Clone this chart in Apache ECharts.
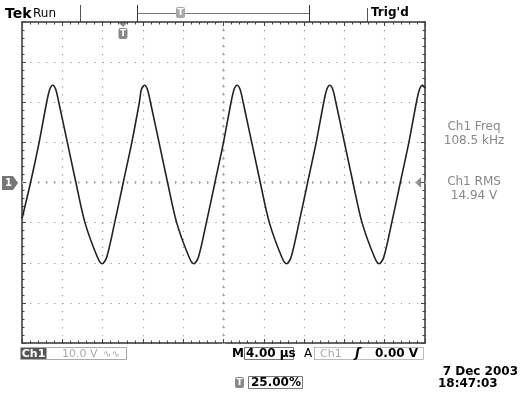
<!DOCTYPE html>
<html>
<head>
<meta charset="utf-8">
<script src="https://cdn.jsdelivr.net/npm/echarts@6/dist/echarts.min.js"></script>
<style>
  html, body { margin: 0; padding: 0; background: #fff; }
  #chart { width: 529px; height: 397px; }
</style>
</head>
<body>
<div id="chart"></div>
<script>
// time in µs from the left edge of the screen (trigger sits at 10 µs), volts on Ch1
const timeUs = [
  0, 0.85, 1.7, 2.45, 2.75, 3.05, 3.35, 3.65, 4.5, 5.35, 6.25, 7.5, 7.95,
  8.4, 9.2, 10.05, 10.9, 11.65, 11.85, 12.15, 12.45, 12.75, 13.6, 14.45, 15.35, 16.6, 17.05,
  17.5, 18.3, 19.15, 20.0, 20.75, 21.05, 21.35, 21.65, 21.95, 22.8, 23.65, 24.55, 25.8, 26.25,
  26.7, 27.5, 28.35, 29.2, 29.95, 30.25, 30.55, 30.85, 31.15, 32.0, 32.85, 33.75, 35.0, 35.45,
  35.9, 36.7, 37.55, 38.4, 39.15, 39.45, 39.75, 40
]
const volts = [
  -9, 0, 10, 20, 23.2, 24.25, 23.2, 20, 10, 0, -10, -18.7, -20.25,
  -18.7, -10, 0, 10, 20, 23.2, 24.25, 23.2, 20, 10, 0, -10, -18.7, -20.25,
  -18.7, -10, 0, 10, 20, 23.2, 24.25, 23.2, 20, 10, 0, -10, -18.7, -20.25,
  -18.7, -10, 0, 10, 20, 23.2, 24.25, 23.2, 20, 10, 0, -10, -18.7, -20.25,
  -18.7, -10, 0, 10, 20, 23.2, 24.25, 23.5
]
const readouts = ['Ch1 Freq', '108.5 kHz', 'Ch1 RMS', '14.94 V']
const chLabel = 'Ch1'
const voltsPerDiv = '10.0 V'
const timePerDiv = '4.00 µs'
const trigLevel = '0.00 V'
const trigPos = '25.00%'
const dateText = '7 Dec 2003'
const timeText = '18:47:03'

const FONT = 'DejaVu Sans'
const GRID = { left: 22, top: 22, width: 403, height: 321 }

function xAx(pos, opts) {
  return Object.assign({
    type: 'value', min: 0, max: 40, interval: 4, position: pos,
    axisLine: { show: true, onZero: false, lineStyle: { color: '#333', width: 1.5 } },
    axisTick: { show: true, inside: true, length: 4, lineStyle: { color: '#444' } },
    minorTick: { show: true, splitNumber: 5, length: 2.5, lineStyle: { color: '#444' } },
    axisLabel: { show: false },
    splitLine: { show: false }
  }, opts)
}
function yAx(pos, opts) {
  return Object.assign({
    type: 'value', min: -40, max: 40, interval: 10, position: pos,
    axisLine: { show: true, onZero: false, lineStyle: { color: '#333', width: 1.5 } },
    axisTick: { show: true, inside: true, length: 4, lineStyle: { color: '#444' } },
    minorTick: { show: true, splitNumber: 5, length: 2.5, lineStyle: { color: '#444' } },
    axisLabel: { show: false },
    splitLine: { show: false }
  }, opts)
}

const centerTicks = { show: true, length: 1.5, lineStyle: { color: '#aaa' } }
const centerMinor = { show: true, splitNumber: 5, length: 1.5, lineStyle: { color: '#aaa' } }

const chart = echarts.init(document.getElementById('chart'))

function box(x, y, w, h, stroke, fill) {
  return { type: 'rect', shape: { x: x, y: y, width: w, height: h },
    style: { fill: fill || 'none', stroke: stroke || 'none', lineWidth: 1 } }
}
function txt(x, y, s, opt) {
  return { type: 'text', x: x, y: y, style: Object.assign({
    text: s, font: '12px ' + FONT, fill: '#000', textVerticalAlign: 'middle'
  }, opt || {}) }
}
function vline(x, y1, y2, c) {
  return { type: 'line', shape: { x1: x, y1: y1, x2: x, y2: y2 }, style: { stroke: c || '#555', lineWidth: 1 } }
}
function tIcon(x, y, c) {
  return [
    { type: 'rect', shape: { x: x, y: y, width: 9, height: 11, r: 2 }, style: { fill: c } },
    txt(x + 4.5, y + 5.5, 'T', { font: 'bold 9px ' + FONT, fill: '#fff', textAlign: 'center' })
  ]
}

const graphics = [
  txt(5, 14, 'Tek', { font: 'bold 14px ' + FONT }),
  txt(33, 14, 'Run', { font: '12px ' + FONT }),
  vline(80.5, 5, 22),
  vline(137.5, 5, 22, '#333'),
  { type: 'line', shape: { x1: 137, y1: 13.5, x2: 309, y2: 13.5 }, style: { stroke: '#777', lineWidth: 1 } },
  vline(309.5, 5, 22, '#333'),
  vline(367.5, 8, 22),
  txt(371, 13, 'Trig\'d', { font: 'bold 12px ' + FONT }),
  ...tIcon(176, 7, '#aaa'),
  { type: 'polygon', shape: { points: [[118, 22], [128, 22], [123, 27]] }, style: { fill: '#888' } },
  ...tIcon(118.5, 28, '#888'),
  { type: 'polygon', shape: { points: [[2, 176], [13, 176], [18, 183], [13, 190], [2, 190]] }, style: { fill: '#777' } },
  txt(8.5, 183.5, '1', { font: 'bold 10px ' + FONT, fill: '#fff', textAlign: 'center' }),
  { type: 'polygon', shape: { points: [[421, 177.5], [421, 187.5], [415, 182.5]] }, style: { fill: '#888' } },
  txt(474, 127, readouts[0], { font: '12px ' + FONT, fill: '#888', textAlign: 'center' }),
  txt(474, 141, readouts[1], { font: '12px ' + FONT, fill: '#888', textAlign: 'center' }),
  txt(474, 182, readouts[2], { font: '12px ' + FONT, fill: '#888', textAlign: 'center' }),
  txt(474, 196, readouts[3], { font: '12px ' + FONT, fill: '#888', textAlign: 'center' }),
  box(20.5, 347.5, 26, 12, null, '#555'),
  txt(33.5, 354, chLabel, { font: 'bold 11px ' + FONT, fill: '#fff', textAlign: 'center' }),
  box(46.5, 347.5, 80, 12, '#aaa'),
  txt(62, 354, voltsPerDiv, { font: '11px ' + FONT, fill: '#aaa' }),
  txt(103, 354, '∿∿', { font: '10px ' + FONT, fill: '#aaa' }),
  txt(232, 354, 'M', { font: 'bold 12px ' + FONT }),
  box(244.5, 347.5, 49, 12, '#777'),
  txt(246, 354, timePerDiv, { font: 'bold 12px ' + FONT }),
  txt(304, 354, 'A', { font: '12px ' + FONT }),
  vline(314.5, 347, 360, '#333'),
  box(314.5, 347.5, 109, 12, '#bbb'),
  txt(320, 354, chLabel, { font: '11px ' + FONT, fill: '#aaa' }),
  txt(355, 354, 'ʃ', { font: 'bold italic 13px ' + FONT }),
  txt(375, 354, trigLevel, { font: 'bold 12px ' + FONT }),
  ...tIcon(235, 377, '#888'),
  box(248.5, 376.5, 54, 12, '#777'),
  txt(251, 383, trigPos, { font: 'bold 12px ' + FONT }),
  txt(518, 372, dateText, { font: 'bold 12px ' + FONT, textAlign: 'right' }),
  txt(438, 384, timeText, { font: 'bold 12px ' + FONT })
]

const option = {
  backgroundColor: '#fff',
  animation: false,
  grid: GRID,
  xAxis: [
    xAx('bottom', { splitLine: { show: true, lineStyle: { color: '#999', width: 1.2, type: [1.2, 6.83] } } }),
    xAx('top'),
    xAx('bottom', { offset: -160.5,
      axisLine: { show: true, onZero: false, lineStyle: { color: '#aaa', width: 1, type: [1.2, 6.86] } },
      axisTick: Object.assign({ inside: true }, centerTicks), minorTick: centerMinor }),
    xAx('bottom', { offset: -160.5, axisLine: { show: false, onZero: false },
      axisTick: Object.assign({ inside: false }, centerTicks), minorTick: centerMinor })
  ],
  yAxis: [
    yAx('left', { splitLine: { show: true, lineStyle: { color: '#999', width: 1.2, type: [1.2, 6.86] } } }),
    yAx('right'),
    yAx('left', { offset: -201.5,
      axisLine: { show: true, onZero: false, lineStyle: { color: '#aaa', width: 1, type: [1.2, 6.83] } },
      axisTick: Object.assign({ inside: true }, centerTicks), minorTick: centerMinor }),
    yAx('left', { offset: -201.5, axisLine: { show: false, onZero: false },
      axisTick: Object.assign({ inside: false }, centerTicks), minorTick: centerMinor })
  ],
  series: [{
    type: 'line',
    xAxisIndex: 0,
    yAxisIndex: 0,
    data: timeUs.map((t, i) => [t, volts[i]]),
    showSymbol: false,
    smooth: 0.3,
    lineStyle: { color: '#222', width: 1.6 },
    z: 5
  }],
  graphic: graphics
}

chart.setOption(option, true)
</script>
</body>
</html>
